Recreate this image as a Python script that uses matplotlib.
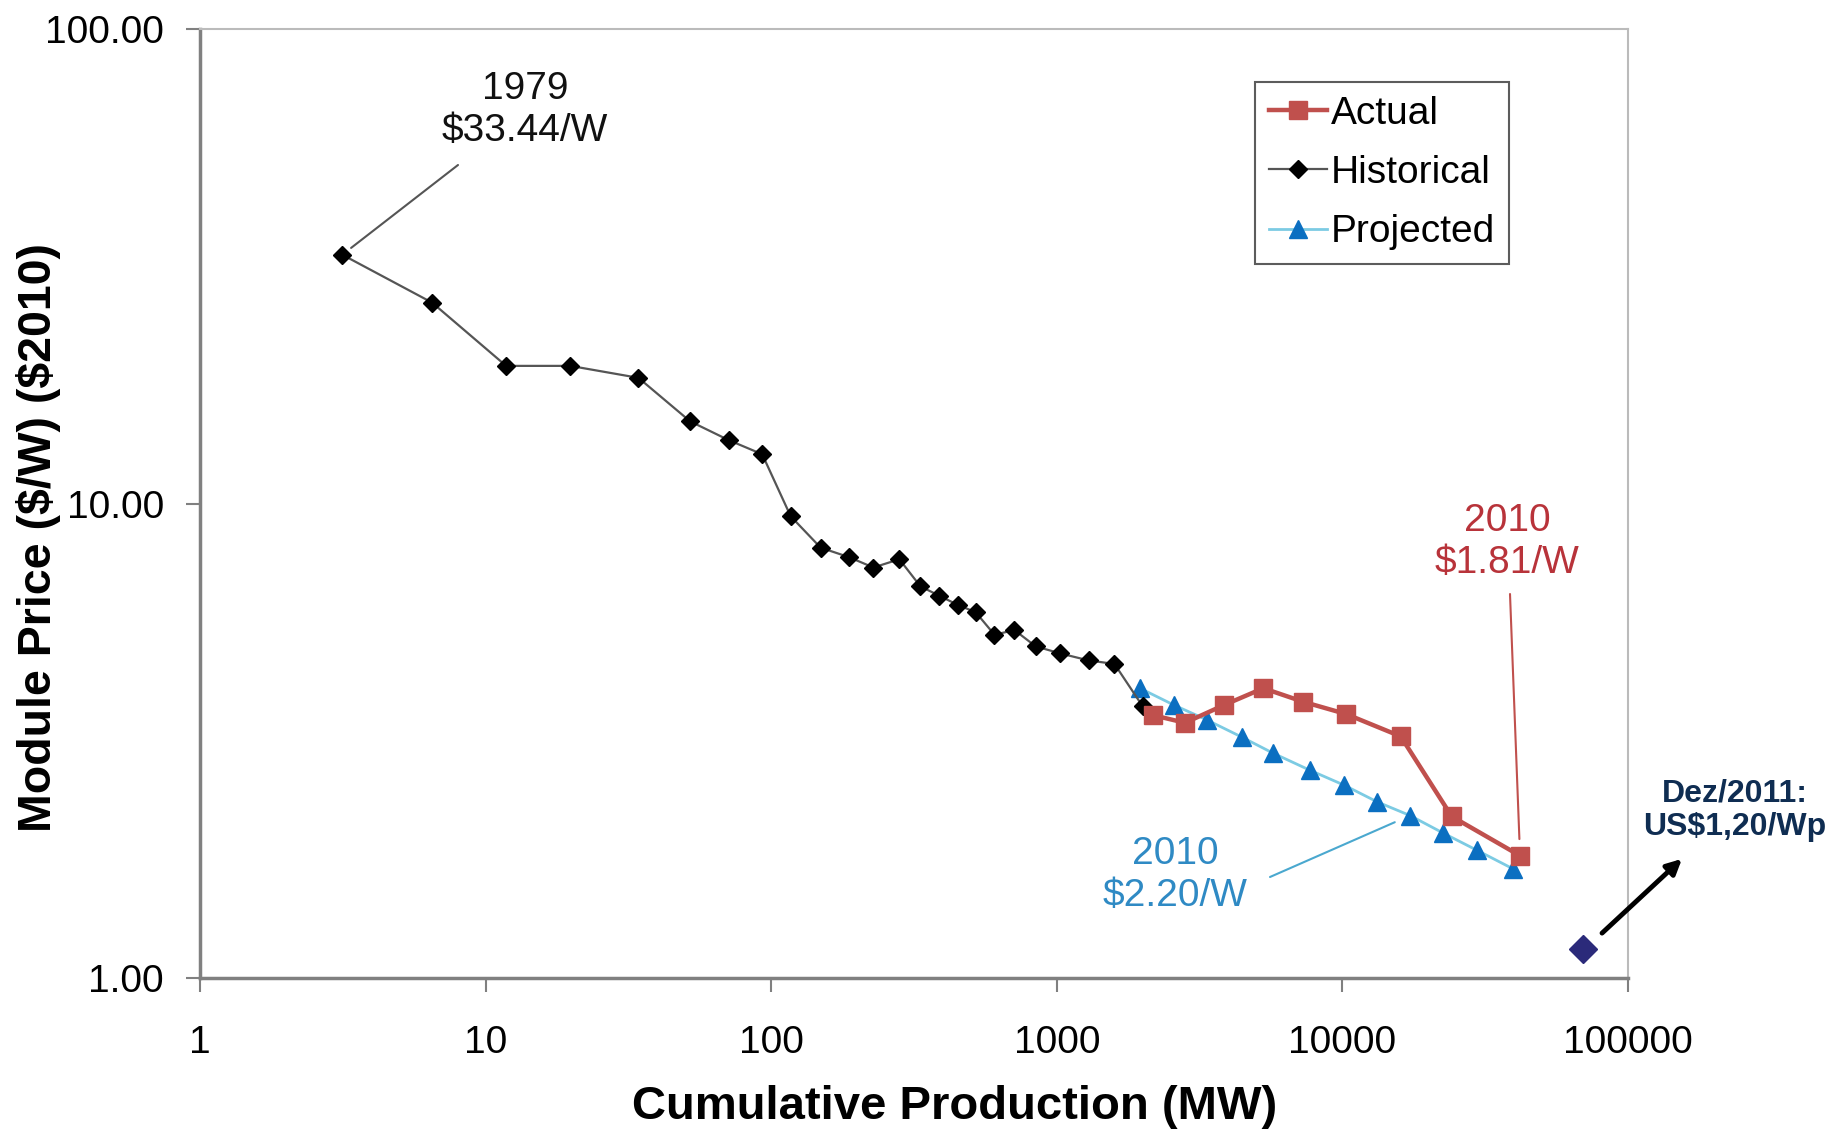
import matplotlib
matplotlib.use("Agg")
import matplotlib.pyplot as plt

plt.rcParams['font.family'] = ['Liberation Sans', 'DejaVu Sans']

# ---- data ----
hist_x = [3.15, 6.5, 11.8, 19.8, 34.3, 52, 71, 93, 117, 149, 187, 228, 281, 333,
          388, 451, 520, 605, 711, 843, 1029, 1292, 1592, 1997]
hist_y = [33.44, 26.5, 19.5, 19.5, 18.4, 14.9, 13.6, 12.7, 9.4, 8.07, 7.71, 7.33, 7.63, 6.69,
          6.39, 6.11, 5.90, 5.29, 5.41, 5.00, 4.83, 4.67, 4.59, 3.74]

act_x = [2173, 2811, 3850, 5285, 7296, 10300, 16000, 24150, 41880]
act_y = [3.58, 3.45, 3.76, 4.08, 3.82, 3.60, 3.23, 2.19, 1.81]

proj_x = [1955, 2572, 3349, 4438, 5701, 7703, 10130, 13250, 17250, 22550, 29520, 39460]
proj_y = [4.08, 3.76, 3.50, 3.22, 2.98, 2.74, 2.55, 2.35, 2.20, 2.02, 1.86, 1.70]

dez_x = [69600]
dez_y = [1.15]

x_ticks = [1, 10, 100, 1000, 10000, 100000]
x_tick_labels = ["1", "10", "100", "1000", "10000", "100000"]
y_ticks = [1, 10, 100]
y_tick_labels = ["1.00", "10.00", "100.00"]

W, H = 1843, 1136
fig = plt.figure(figsize=(W / 100, H / 100), dpi=100)
ax = fig.add_axes([200 / W, 1 - 978 / H, 1428 / W, 949 / H])

def fx(px):
    return px / W

def fy(py):
    return 1 - py / H

RED = '#c0504d'
BLUE_M = '#0b6fc1'
BLUE_L = '#7ccbe3'

ax.plot(proj_x, proj_y, color=BLUE_L, lw=2, marker='^', markersize=13,
        markerfacecolor=BLUE_M, markeredgecolor=BLUE_M, label='Projected', zorder=3)
ax.plot(hist_x, hist_y, color='#555555', lw=1.6, marker='D', markersize=9,
        markerfacecolor='black', markeredgecolor='black', label='Historical', zorder=4)
ax.plot(act_x, act_y, color=RED, lw=3.2, marker='s', markersize=13,
        markerfacecolor=RED, markeredgecolor=RED, label='Actual', zorder=5)
ax.plot(dez_x, dez_y, linestyle='none', marker='D', markersize=14,
        markerfacecolor='#2b2a7a', markeredgecolor='#2b2a7a', zorder=6, clip_on=False)

ax.set_xscale('log')
ax.set_yscale('log')
ax.set_xlim(1, 100000)
ax.set_ylim(1, 100)
ax.minorticks_off()
ax.set_xticks(x_ticks)
ax.set_xticklabels(x_tick_labels)
ax.set_yticks(y_ticks)
ax.set_yticklabels(y_tick_labels)
ax.tick_params(axis='both', labelsize=28, colors='#808080', labelcolor='black',
               length=10, width=1.5)
ax.tick_params(axis='x', pad=24)
ax.tick_params(axis='y', pad=16)

for s in ['left', 'bottom']:
    ax.spines[s].set_color('#808080')
    ax.spines[s].set_linewidth(2.5)
for s in ['top', 'right']:
    ax.spines[s].set_color('#bbbbbb')
    ax.spines[s].set_linewidth(1.5)

# axis labels
fig.text(fx(39), fy(537), 'Module Price (\\$/W) (\\$2010)', rotation=90,
         ha='center', va='center', fontsize=33.5, fontweight='bold')
fig.text(fx(955), fy(1107), 'Cumulative Production (MW)',
         ha='center', va='center', fontsize=34, fontweight='bold')

# legend
handles, labels = ax.get_legend_handles_labels()
order = [2, 1, 0]
leg = fig.legend([handles[i] for i in order], [labels[i] for i in order],
                 loc='upper left', bbox_to_anchor=(fx(1255), fy(82)),
                 borderaxespad=0, fontsize=28, frameon=True, fancybox=False,
                 edgecolor='#333333', handlelength=1.5, handletextpad=0.1,
                 labelspacing=0.6, borderpad=0.35)
leg.get_frame().set_linewidth(1.5)

# annotations
fig.text(fx(525), fy(110), '1979\n\\$33.44/W', ha='center', va='center',
         fontsize=28, color='#111111', linespacing=1.2)
ax.annotate('', xy=(hist_x[0], hist_y[0]), xytext=(fx(458), fy(165)),
            textcoords='figure fraction',
            arrowprops=dict(arrowstyle='-', color='#555555', lw=1.5,
                            shrinkA=0, shrinkB=8))

fig.text(fx(1507), fy(542), '2010\n\\$1.81/W', ha='center', va='center',
         fontsize=28, color='#b8333a', linespacing=1.2)
ax.annotate('', xy=(act_x[-1], act_y[-1]), xytext=(fx(1510), fy(594)),
            textcoords='figure fraction',
            arrowprops=dict(arrowstyle='-', color='#c0504d', lw=1.5,
                            shrinkA=0, shrinkB=12))

fig.text(fx(1175), fy(875), '2010\n\\$2.20/W', ha='center', va='center',
         fontsize=28, color='#2f8ac4', linespacing=1.2)
ax.annotate('', xy=(proj_x[8], proj_y[8]), xytext=(fx(1270), fy(877)),
            textcoords='figure fraction',
            arrowprops=dict(arrowstyle='-', color='#4aa8cf', lw=1.5,
                            shrinkA=0, shrinkB=12))

# Dez/2011 note
fig.text(fx(1735), fy(810), 'Dez/2011:\nUS\\$1,20/Wp', ha='center', va='center',
         fontsize=23, fontweight='bold', color='#0f2d52', linespacing=1.15)
fig.add_artist(matplotlib.patches.FancyArrowPatch(
    (fx(1600), fy(935)), (fx(1684), fy(857)), transform=fig.transFigure,
    arrowstyle='-|>', mutation_scale=22, color='black', lw=3.5))

fig.savefig('out.png', dpi=100)
